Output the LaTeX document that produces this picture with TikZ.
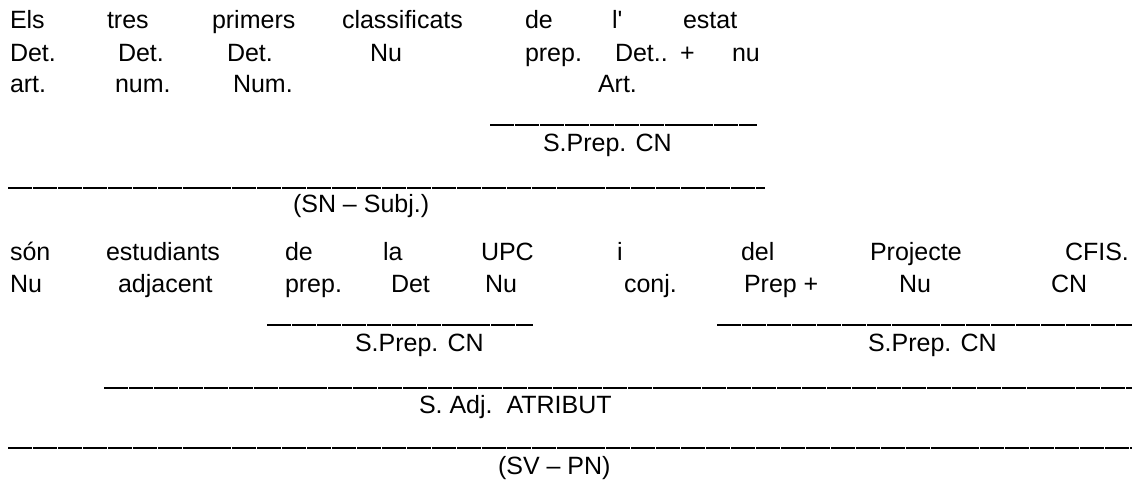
\documentclass[tikz,border=0pt]{standalone}
\usepackage{fontspec}
\setmainfont{Liberation Sans}
\begin{document}
\begin{tikzpicture}[x=0.75pt,y=-0.75pt,
  word/.style={anchor=base west,inner sep=0pt,outer sep=0pt,font=\fontsize{18.75}{22}\selectfont},
  uline/.style={line width=1.35pt,black,dash pattern=on 18pt off 0.7pt}]
\useasboundingbox (0,0) rectangle (1132,483);
% row A
\node[word] (a1) at (10,28) {Els};
\node[word] (a2) at (107,28) {tres};
\node[word] (a3) at (212,28) {primers};
\node[word] (a4) at (342,28) {classificats};
\node[word] (a5) at (525,28) {de};
\node[word] (a6) at (612,28) {l\textquotesingle};
\node[word] (a7) at (683,28) {estat};
% row B
\node[word] (b1) at (10,61) {Det.};
\node[word] (b2) at (118,61) {Det.};
\node[word] (b3) at (227,61) {Det.};
\node[word] (b4) at (370,61) {Nu};
\node[word] (b5) at (525,61) {prep.};
\node[word] (b6) at (615,61) {Det..};
\node[word] (b7) at (680,61) {+};
\node[word] (b8) at (732,61) {nu};
% row C
\node[word] (c1) at (10,92) {art.};
\node[word] (c2) at (115,92) {num.};
\node[word] (c3) at (233,92) {Num.};
\node[word] (c4) at (598,92) {Art.};
% line 1
\coordinate (l1a) at (490,125); \coordinate (l1b) at (757,125);
\draw[uline] (l1a) -- (l1b);
\node[word] (t1) at (543,151) {S.Prep. CN};
% line 2
\coordinate (l2a) at (8,188); \coordinate (l2b) at (765,188);
\draw[uline] (l2a) -- (l2b);
\node[word] (t2) at (293,212) {(SN – Subj.)};
% row D
\node[word] (d1) at (10,260) {són};
\node[word] (d2) at (106,260) {estudiants};
\node[word] (d3) at (285,260) {de};
\node[word] (d4) at (383,260) {la};
\node[word] (d5) at (481,260) {UPC};
\node[word] (d6) at (617,260) {i};
\node[word] (d7) at (741,260) {del};
\node[word] (d8) at (870,260) {Projecte};
\node[word] (d9) at (1065,260) {CFIS.};
% row E
\node[word] (e1) at (10,292) {Nu};
\node[word] (e2) at (118,292) {adjacent};
\node[word] (e3) at (285,292) {prep.};
\node[word] (e4) at (391,292) {Det};
\node[word] (e5) at (485,292) {Nu};
\node[word] (e6) at (624,292) {conj.};
\node[word] (e7) at (744,292) {Prep +};
\node[word] (e8) at (899,292) {Nu};
\node[word] (e9) at (1051,292) {CN};
% lines 3 and 4
\coordinate (l3a) at (267,325); \coordinate (l3b) at (533,325);
\draw[uline] (l3a) -- (l3b);
\node[word] (t3) at (355,351) {S.Prep. CN};
\coordinate (l4a) at (717,325); \coordinate (l4b) at (1132,325);
\draw[uline] (l4a) -- (l4b);
\node[word] (t4) at (868,351) {S.Prep. CN};
% line 5
\coordinate (l5a) at (104,388); \coordinate (l5b) at (1132,388);
\draw[uline] (l5a) -- (l5b);
\node[word] (t5) at (419,413) {S. Adj.\ \ ATRIBUT};
% line 6
\coordinate (l6a) at (8,448); \coordinate (l6b) at (1132,448);
\draw[uline] (l6a) -- (l6b);
\node[word] (t6) at (498,474) {(SV – PN)};
\end{tikzpicture}
\end{document}
